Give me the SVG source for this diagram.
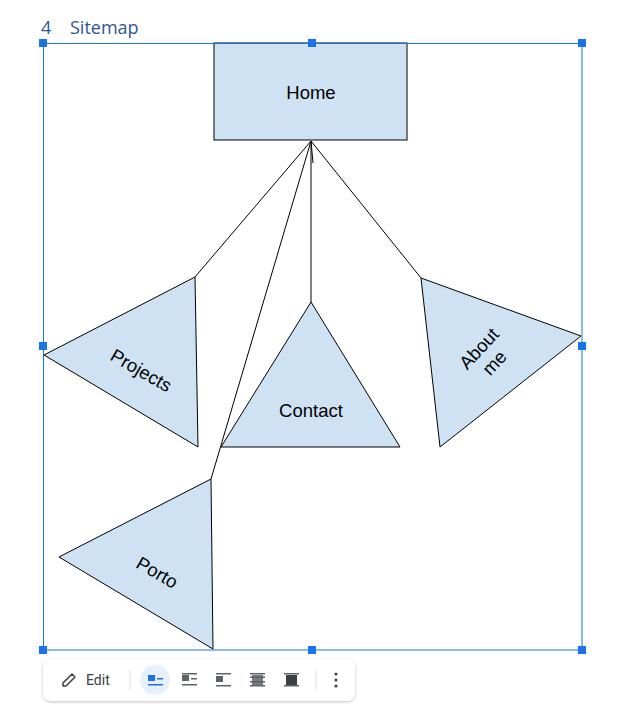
<svg xmlns="http://www.w3.org/2000/svg" width="628" height="714" viewBox="0 0 628 714">
<style>
.node{fill:#cfe2f3;stroke:#000;stroke-width:1}
.lbl{font-family:"Liberation Sans",Arial,sans-serif;font-size:18.5px;fill:#000;text-anchor:middle}
.edge{stroke:#000;stroke-width:1;fill:none}
.h{fill:#1a73e8}
.ic{fill:#5f6368}
</style>
<defs>
<filter id="sh" x="-10%" y="-30%" width="120%" height="160%">
<feDropShadow dx="0" dy="1" stdDeviation="1.5" flood-color="#000" flood-opacity="0.25"/>
</filter>
</defs>
<rect width="628" height="714" fill="#fff"/>
<text x="41" y="34" font-family="'Open Sans','Liberation Sans',sans-serif" font-size="18" fill="#2f5597">4</text>
<text x="70" y="34" font-family="'Open Sans','Liberation Sans',sans-serif" font-size="18" fill="#2f5597">Sitemap</text>

<g id="connectors">
<line class="edge" x1="311" y1="141" x2="195" y2="277"/>
<line class="edge" x1="311" y1="141" x2="211" y2="479"/>
<line class="edge" x1="311" y1="141" x2="311" y2="302"/>
<line class="edge" x1="311" y1="141" x2="421" y2="278"/>
<line class="edge" x1="311" y1="141" x2="313" y2="163"/>
</g>

<g id="home">
<rect class="node" x="214" y="43" width="193" height="97"/>
<text class="lbl" x="311" y="99">Home</text>
</g>
<g id="projects">
<polygon class="node" points="195,277 44,355 198,447"/>
<text class="lbl" transform="translate(138,376) rotate(30)">Projects</text>
</g>
<g id="contact">
<polygon class="node" points="311,302 221,447 400,447"/>
<text class="lbl" x="311" y="417">Contact</text>
</g>
<g id="aboutme">
<polygon class="node" points="421,278 581,336 440,447"/>
<text class="lbl" transform="translate(488,357) rotate(-47)"><tspan x="0" y="-6">About</tspan><tspan x="0" y="15">me</tspan></text>
</g>
<g id="porto">
<polygon class="node" points="211,479 59,557 213,649"/>
<text class="lbl" transform="translate(154,578) rotate(30)">Porto</text>
</g>

<g id="selection">
<rect x="43.5" y="43.5" width="538.5" height="606.5" fill="none" stroke="#1a73e8" stroke-width="1"/>
<rect class="h" x="39" y="39" width="8" height="8"/>
<rect class="h" x="308" y="39" width="8" height="8"/>
<rect class="h" x="578" y="39" width="8" height="8"/>
<rect class="h" x="39" y="342" width="8" height="8"/>
<rect class="h" x="578" y="342" width="8" height="8"/>
<rect class="h" x="39" y="646" width="8" height="8"/>
<rect class="h" x="308" y="646" width="8" height="8"/>
<rect class="h" x="578" y="646" width="8" height="8"/>
</g>

<g id="toolbar">
<rect x="43" y="659" width="312" height="42" rx="8" fill="#fff" filter="url(#sh)"/>
<path d="M63,686 L63,683 L72,674 L75,677 L66,686 Z" fill="none" stroke="#444" stroke-width="1.6" stroke-linejoin="round"/>
<text x="86" y="685" font-family="Roboto,'Liberation Sans',sans-serif" font-size="14" fill="#3c4043">Edit</text>
<rect x="129.5" y="670" width="1" height="20" fill="#dadce0"/>
<circle cx="155" cy="680" r="15" fill="#e8f0fe"/>
<rect x="148" y="675" width="7" height="6" fill="#1a73e8"/>
<rect x="157" y="678" width="6" height="1.5" fill="#1a73e8"/>
<rect x="148" y="684" width="15" height="1.5" fill="#1a73e8"/>
<rect x="182" y="673" width="15" height="1.5" class="ic"/>
<rect x="182" y="675" width="7" height="6" class="ic"/>
<rect x="191" y="678" width="6" height="1.5" class="ic"/>
<rect x="182" y="684" width="15" height="1.5" class="ic"/>
<rect x="216" y="673" width="15" height="1.5" class="ic"/>
<rect x="216" y="676" width="7" height="6" class="ic"/>
<rect x="216" y="685" width="15" height="1.5" class="ic"/>
<rect x="250" y="673" width="15" height="1.5" class="ic"/>
<rect x="250" y="676.5" width="15" height="1.5" class="ic"/>
<rect x="252" y="675" width="11" height="10" class="ic" opacity="0.85"/>
<rect x="250" y="681" width="15" height="1.5" class="ic"/>
<rect x="250" y="685" width="15" height="1.5" class="ic"/>
<rect x="284" y="673" width="15" height="1.5" class="ic"/>
<rect x="286" y="675" width="11" height="10" fill="#3c4043"/>
<rect x="284" y="685" width="15" height="1.5" class="ic"/>
<rect x="315.5" y="670" width="1" height="20" fill="#dadce0"/>
<circle cx="336" cy="674" r="1.6" fill="#444"/>
<circle cx="336" cy="680" r="1.6" fill="#444"/>
<circle cx="336" cy="686" r="1.6" fill="#444"/>
</g>
</svg>
